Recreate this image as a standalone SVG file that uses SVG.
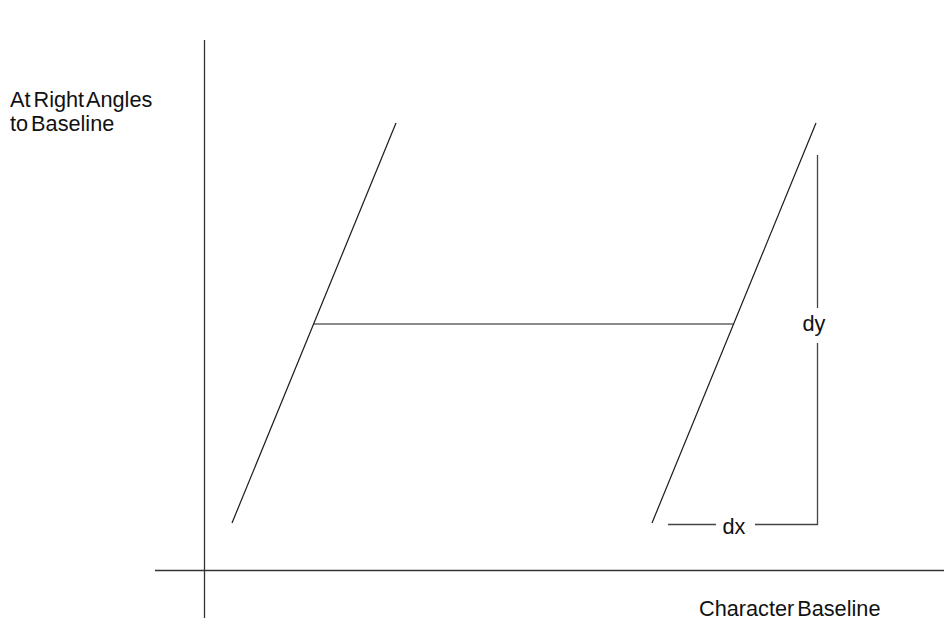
<svg xmlns="http://www.w3.org/2000/svg" width="944" height="620" viewBox="0 0 944 620">
<style>
.ln{stroke:#1a1a1a;stroke-width:1.2;fill:none}
.ax{stroke:#333;stroke-width:1.3;fill:none}
.dim{stroke:#444;stroke-width:1.3;fill:none}
.t{font-family:"Liberation Sans",Arial,sans-serif;font-size:21.7px;fill:#111;word-spacing:-3px}
</style>
<rect width="944" height="620" fill="#fff"/>
<g id="axes">
<line class="ax" x1="204.5" y1="40" x2="204.5" y2="618"/>
<line class="ax" x1="155" y1="570.5" x2="944" y2="570.5"/>
</g>
<g id="glyph">
<line class="ln" x1="232" y1="523" x2="396" y2="123"/>
<line class="ln" x1="652" y1="523" x2="816" y2="123"/>
<line class="ln" x1="313.5" y1="324" x2="733.5" y2="324"/>
</g>
<g id="dimensions">
<line class="dim" x1="817.5" y1="155" x2="817.5" y2="308"/>
<line class="dim" x1="817.5" y1="343" x2="817.5" y2="525"/>
<line class="dim" x1="668" y1="524.5" x2="716" y2="524.5"/>
<line class="dim" x1="755" y1="524.5" x2="818" y2="524.5"/>
</g>
<g id="labels">
<text class="t" x="10" y="107">At Right Angles</text>
<text class="t" x="10" y="131">to Baseline</text>
<text class="t" x="814" y="331" text-anchor="middle">dy</text>
<text class="t" x="734" y="534" text-anchor="middle">dx</text>
<text class="t" x="699" y="616">Character Baseline</text>
</g>
</svg>
